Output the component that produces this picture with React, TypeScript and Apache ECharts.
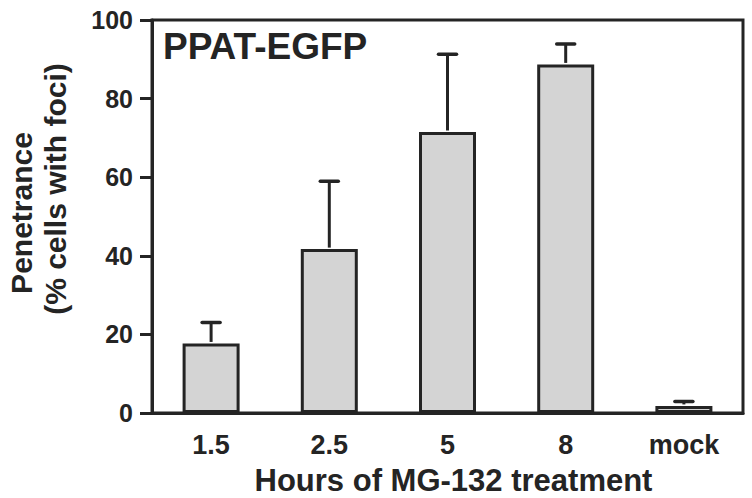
import React, { useEffect, useRef } from "react";
import * as echarts from "echarts";

const categories = ["1.5", "2.5", "5", "8", "mock"];
const penetrance = [17.7, 41.7, 71.5, 88.7, 1.8];
const errorUpper = [23.0, 59.0, 91.3, 93.9, 2.9];
const yTickValues = { min: 0, max: 100, interval: 20 };
const chartTitle = "PPAT-EGFP";
const xTitle = "Hours of MG-132 treatment";
const yTitleLines = ["Penetrance", "(% cells with foci)"];

const FONT = "'Liberation Sans', Arial, Helvetica, sans-serif";
const INK = "#242424";

export default function App() {
  const ref = useRef<HTMLDivElement>(null);
  useEffect(() => {
    if (!ref.current) return;
    const chart = echarts.init(ref.current, undefined, { renderer: "svg" });
    const errData = categories.map((c, i) => [i, penetrance[i], errorUpper[i]]);
    chart.setOption({
      animation: false,
      backgroundColor: "#ffffff",
      grid: {
        left: 152,
        right: 9,
        top: 20,
        bottom: 85,
        outerBoundsMode: "none",
        containLabel: false,
        show: true,
        borderColor: INK,
        borderWidth: 3,
        backgroundColor: "transparent",
      },
      xAxis: {
        type: "category",
        data: categories,
        axisLine: { lineStyle: { color: INK, width: 3 } },
        axisTick: { show: false },
        axisLabel: {
          color: INK,
          fontFamily: FONT,
          fontWeight: "bold",
          fontSize: 27,
          margin: 18,
        },
        name: xTitle,
        nameLocation: "middle",
        nameGap: 52,
        nameTextStyle: {
          color: INK,
          fontFamily: FONT,
          fontWeight: "bold",
          fontSize: 31,
          padding: [0, 0, 0, 12],
        },
      },
      yAxis: {
        type: "value",
        min: yTickValues.min,
        max: yTickValues.max,
        interval: yTickValues.interval,
        splitLine: { show: false },
        axisLine: { show: true, lineStyle: { color: INK, width: 3 } },
        axisTick: { show: true, length: 12, lineStyle: { color: INK, width: 3 } },
        axisLabel: {
          color: INK,
          fontFamily: FONT,
          fontWeight: "bold",
          fontSize: 25,
          margin: 19,
        },
      },
      graphic: [
        {
          type: "text",
          x: 163,
          y: 28,
          style: {
            text: chartTitle,
            fill: INK,
            font: `bold 37px ${FONT}`,
            align: "left",
            verticalAlign: "top",
          },
        },
        {
          type: "text",
          x: 21,
          y: 213,
          rotation: Math.PI / 2,
          style: {
            text: yTitleLines[0],
            fill: INK,
            font: `bold 30px ${FONT}`,
            align: "center",
            verticalAlign: "middle",
          },
        },
        {
          type: "text",
          x: 55,
          y: 189,
          rotation: Math.PI / 2,
          style: {
            text: yTitleLines[1],
            fill: INK,
            font: `bold 30px ${FONT}`,
            align: "center",
            verticalAlign: "middle",
          },
        },
      ],
      series: [
        {
          type: "bar",
          data: penetrance,
          barWidth: 57,
          itemStyle: {
            color: "#d4d4d4",
            borderColor: INK,
            borderWidth: 3,
          },
          z: 2,
        },
        {
          type: "custom",
          data: errData,
          encode: { x: 0, y: [1, 2] },
          z: 3,
          renderItem: (params: any, api: any) => {
            const i = api.value(0);
            const low = api.value(1);
            const high = api.value(2);
            const p0 = api.coord([i, low]);
            const p1 = api.coord([i, high]);
            const half = 9;
            return {
              type: "group",
              children: [
                {
                  type: "line",
                  shape: { x1: p0[0], y1: p0[1] - 1.5, x2: p1[0], y2: p1[1] },
                  style: { stroke: INK, lineWidth: 3 },
                },
                {
                  type: "line",
                  shape: { x1: p1[0] - half, y1: p1[1], x2: p1[0] + half, y2: p1[1] },
                  style: { stroke: INK, lineWidth: 3.5, lineCap: "round" },
                },
              ],
            };
          },
        },
      ],
    });
    return () => chart.dispose();
  }, []);
  return <div ref={ref} style={{ width: 752, height: 498, position: "absolute", left: 0, top: 0 }} />;
}
